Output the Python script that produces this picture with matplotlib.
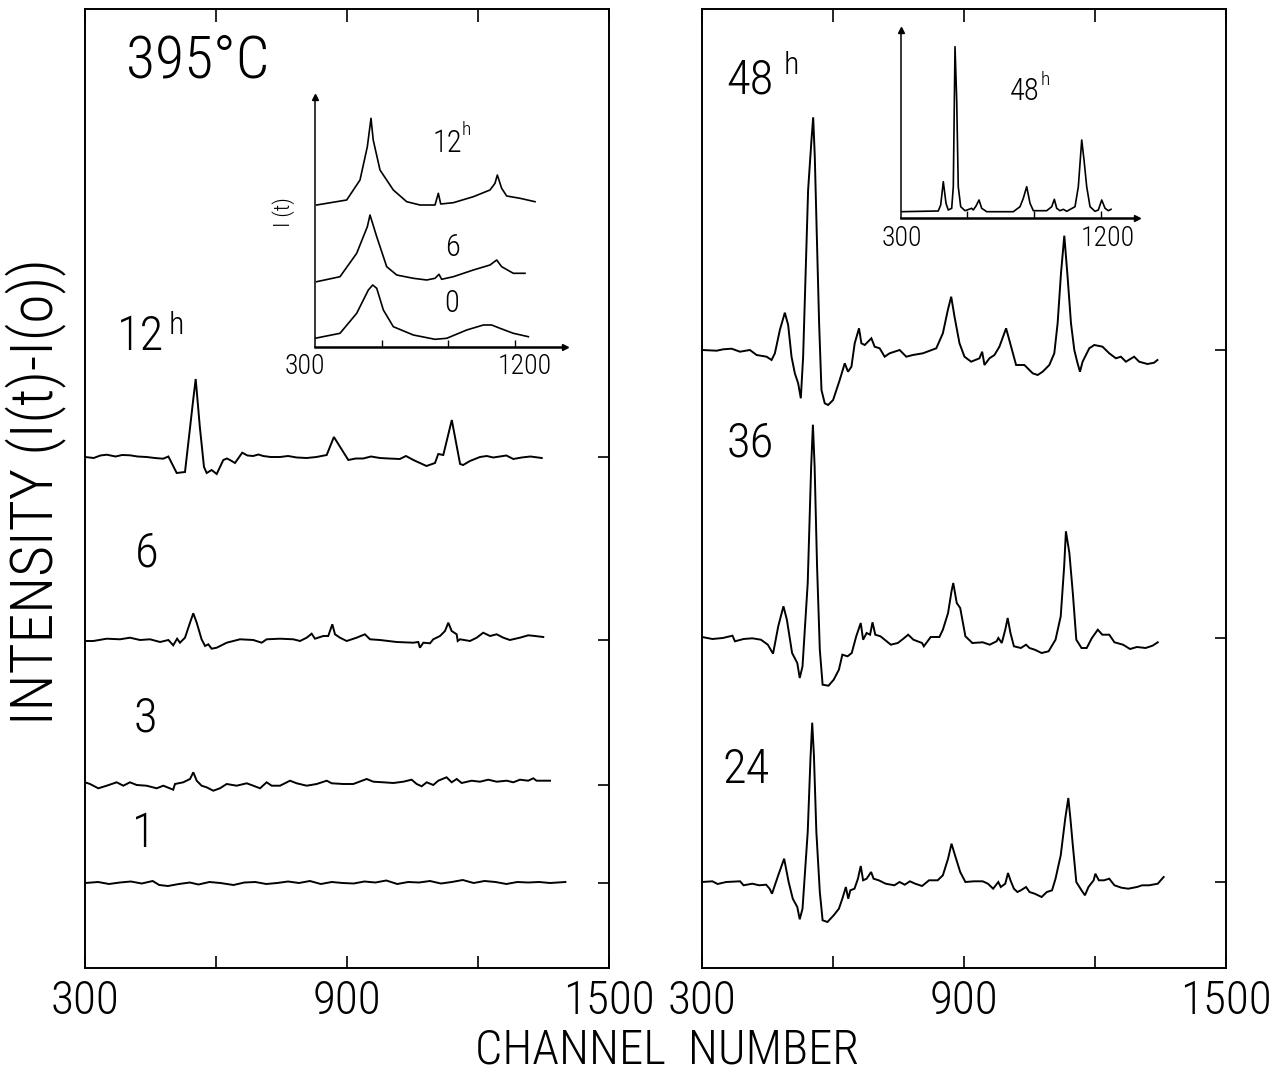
import matplotlib
matplotlib.use('Agg')
import matplotlib.pyplot as plt

FONT = ['Roboto Condensed', 'Roboto', 'DejaVu Sans']
plt.rcParams['font.family'] = FONT
plt.rcParams['font.weight'] = 'light'

# ---------------- data (channel, relative intensity) ----------------
# Left panel: 395 C, difference spectra I(t)-I(0)
ch_L12 = [300, 320, 335, 350, 370, 385, 403, 420, 441, 460, 479, 491, 510, 529, 548, 553.5, 563, 572.5,
          578.7, 590, 601.6, 616.7, 625, 632, 643.5, 660, 672, 685, 697, 708, 725, 746.6, 765, 785,
          807.7, 830, 853.5, 870, 903, 920, 937, 955, 975.5, 995, 1021, 1035, 1052, 1082, 1101.5,
          1109, 1120.5, 1140, 1159, 1166, 1181.6, 1204.5, 1220, 1235, 1250, 1265, 1280.8, 1300, 1320, 1346]
v_L12 = [0, -1, 1.5, 2.3, 0.5, 2, 1.7, 0.5, 0, -1, -1.7, 0.5, -16, -15, 58, 78, 30, -10,
         -16, -13, -17, -3, -1.5, -3, -6, 4.3, 1.5, 1, 2.5, 1, 0, 0, 1, -0.5,
         -1, 0, 2, 20, -3, -1.5, -1.5, 0.5, -1, -1.5, -2, 1, -3, -9, -6,
         3, 2, 37, -7, -8, -4, 0, 1, -0.5, 0.5, 1.5, -2, -0.5, 0.5, -1]

ch_L6 = [300, 319, 349.7, 380, 403, 426, 449, 472, 491, 502, 511, 517.5, 529, 540.5, 548, 555.8, 567, 575,
         582.4, 590, 601.6, 624.5, 655, 685.4, 704.6, 716, 746.6, 777, 792.4, 807.7, 819, 826.7, 845.7,
         857, 866.4, 872.5, 884, 899.3, 922, 941, 952.7, 975.5, 1013.8, 1051.8, 1063.3, 1067, 1074.7,
         1090, 1097.6, 1113, 1124.4, 1132, 1139.7, 1151.2, 1153.5, 1158.8, 1181.6, 1197, 1212, 1227.5,
         1242.8, 1258, 1273, 1296, 1315, 1330.5, 1349.5]
v_L6 = [-1, -1, 1.3, 0.7, 2.3, 0, 0.7, -2, 0, -5.3, 1.3, -2.7, 2.3, 17.3, 26.7, 17.3, 0.7, -6,
        -4.3, -8.7, -7.7, -2.7, 0.7, 0, -2.7, 0.7, 1.3, 0.7, -1, 2.3, 6.3, 1.3, 4,
        4, 15.7, 5.7, 2.3, -1, 2.3, 5.7, 0.7, 0, -2, -2.7, -2, -7.7, -2.7,
        -3.3, 0.7, 4, 9, 17.3, 9, 5.7, -1, 0.7, -1, 2.3, 7.3, 4,
        5.7, 2.3, 0, 2.3, 4.7, 4, 3]

ch_L3 = [300, 311.5, 330.5, 349.7, 372.6, 387.7, 403, 418.4, 441, 464.2, 479.3, 502, 506, 525, 540.5, 548,
         555.8, 567, 578.5, 593.8, 609, 624.5, 647.3, 670.3, 685.4, 700.8, 716, 727.5, 746.6, 769.5,
         784.8, 807.7, 830.6, 853.5, 865, 891.5, 914.4, 945, 960.3, 983, 1006, 1029, 1048, 1059.6,
         1071, 1082.5, 1097.6, 1109, 1128, 1139.7, 1151.2, 1162.6, 1185.5, 1204.5, 1223.6, 1242.8,
         1265.7, 1281, 1296, 1315, 1326.6, 1334, 1365]
v_L3 = [2.7, 1, -3.3, -0.7, 2.7, -0.7, 2.7, 0, -0.7, -3.3, -0.7, -4.7, 1, 2.7, 6, 12.7,
        4.3, -0.7, -2.3, -5.7, -3.3, 1, -0.7, 1.7, -0.7, -3.3, 2.7, -0.7, -0.7, 4.3,
        1.7, -0.7, 1, 4.3, 1.7, 1, 1, 6, 3.3, 2.7, 2, 3.3, 5.3, 1,
        -1.3, 2.7, 0, 4.3, 7.7, 2.7, 6, 2, 4.3, 3.3, 5.3, 3.3,
        4.3, 2.7, 5.3, 4.3, 6.7, 4.3, 4.3]

ch_L1 = [300, 330, 355, 380, 405, 430, 455, 470, 490, 515, 540, 560, 585, 610, 640, 665, 690, 715, 740,
         765, 790, 815, 840, 865, 890, 915, 940, 965, 990, 1015, 1040, 1065, 1090, 1115, 1140, 1165,
         1190, 1215, 1240, 1265, 1290, 1315, 1340, 1365, 1400]
v_L1 = [0, 1, -1, 0.5, 1.5, -0.5, 2, -2, -3, -1, 0.5, -1.5, 1, 0, -2, 0.5, 1, -1, 0,
        1.5, 0, 2, -1, 1, 0, -0.5, 1.5, 0.5, 2.5, -1, 1, 0.5, 2, -0.5, 1, 3,
        0, 2, 1, -1, 1, 0.5, 1, 0, 1]

# Right panel
ch_R48 = [300, 333.5, 348.8, 367.8, 386.9, 409.7, 425, 447.9, 459.3, 466.9, 478.3, 489.7, 497.3, 505,
          512.6, 520.2, 526.3, 531.6, 543, 550.7, 554.6, 558.3, 562.2, 568.2, 573.6, 581.1, 588.8,
          600.2, 615.4, 626.9, 634.4, 642.2, 649.7, 659.6, 665, 672.6, 687.9, 695.4, 706.9, 718.3,
          729.7, 752.6, 767.9, 783, 805.8, 836.5, 851.6, 863, 870.7, 878.3, 889.7, 901.1, 916.4,
          935.4, 941.6, 946.9, 958.3, 969.7, 981.1, 996.4, 1007.9, 1019.3, 1038.3, 1057.3, 1068.7,
          1080.1, 1095.4, 1106.8, 1114.4, 1122.1, 1129.7, 1137.2, 1145, 1152.6, 1160.1, 1165.6,
          1171.6, 1186.9, 1198.3, 1217.3, 1232.6, 1247.9, 1259.3, 1270.7, 1289.7, 1301.1, 1320.2,
          1335.4, 1343]
v_R48 = [0, -0.7, 0.7, 1.3, -1.7, 0, -5, -6.7, -10, -3.3, 20, 37.3, 25, -6.7,
         -23.3, -33.3, -48.3, -6.7, 160, 210, 232.7, 193.3, 126.7, 26.7, -40, -53.3, -55,
         -50, -30, -13.3, -21.7, -16.7, 6.7, 21.7, 6.7, 5, 11.7, 3.3, 1.7, -6.7,
         -3.3, 0, -6.7, -5, -3.3, 1.7, 16.7, 40, 53.3, 33.3, 6.7, -6.7, -11.7,
         -8.3, -1.7, -15, -8.3, -5, 3.3, 21.7, 3.3, -15, -15, -23.3, -25,
         -21.7, -15, -3.3, 26.7, 76.7, 114.3, 73.3, 26.7, 0, -13.3, -21.7,
         -11.7, 1.7, 5, 3.3, -3.3, -8.3, -6.7, -11.7, -6.7, -11.7, -14,
         -12.7, -10]

ch_R36 = [300, 323.8, 347.6, 369.8, 375.4, 395.2, 415.1, 434.9, 450.8, 462.7, 474.6, 486.5, 494.4, 506.3,
          518.2, 523.8, 530.2, 542.1, 550, 554, 557.9, 563.5, 569.8, 576.2, 589.7, 601.6, 613.5, 621.4,
          633.3, 642.9, 653.2, 663.5, 669, 677, 684.9, 690.5, 696.8, 708.7, 732.5, 748.4, 760.3, 772.2,
          784.1, 804, 808, 823.8, 843.7, 851.6, 863.5, 871.4, 875.4, 883.4, 891.3, 903.2, 919.1, 942.9,
          958.8, 974.6, 978.6, 986.5, 994.5, 1000, 1006.4, 1014.3, 1030.2, 1042.1, 1050, 1061.9,
          1077.8, 1093.7, 1109.6, 1121.5, 1129.4, 1133.4, 1141.3, 1149.2, 1157.2, 1169.1, 1181,
          1192.9, 1206.4, 1216.7, 1232.6, 1244.5, 1264.3, 1280.2, 1296.1, 1315.9, 1331.8, 1343.7]
v_R36 = [1, -1, 0, 2.3, -3.3, -1, -0.3, -1.7, -6.7, -15.7, 11.7, 31.7, 18.3, -15,
         -25, -40, -28.3, 55, 171.7, 213.3, 171.7, 71.7, -11.7, -46.7, -47.7, -41.7, -31.7, -16.7,
         -18.3, -15, 1.7, 15, -1.7, 5, 3.3, 15.7, 3.3, 1.7, -6.7, -5, -1, 3.3,
         -1.7, -5, -8.3, 1, 1, 8.3, 25, 46.7, 55, 35, 30, 1.7, -5, -4.3,
         -6.7, -3.3, 0, -5, 8.3, 20, 5, -8.3, -10, -6.7, -10, -11.7,
         -15, -13.3, -1.7, 21.7, 71.7, 106.7, 85, 45, -1.7, -10, -10,
         0, 8.3, 3.3, 3.3, -4.3, -6.7, -11, -9, -10, -7.7, -4.3]

ch_R24 = [300, 323.8, 335.7, 355.5, 387.3, 395.2, 415.1, 430.9, 446.8, 454.8, 460.3, 474.6, 488.1, 498.4,
          507.9, 518.2, 523.8, 530.2, 542.1, 548.4, 552.4, 556.3, 561.9, 569.8, 576.2, 587.3, 601.6,
          613.5, 621.4, 629.4, 634.9, 639.7, 649.2, 657.1, 663.5, 669, 677, 687.3, 692.9, 704.8, 720.6,
          740.5, 752.4, 764.3, 776.2, 788.1, 804, 819.9, 839.7, 851.6, 863.5, 871.4, 879.4, 891.3,
          903.2, 923, 942.9, 954.8, 966.7, 978.6, 984.2, 994.5, 1000.8, 1006.4, 1014.3, 1022.3,
          1030.2, 1042.1, 1050, 1061.9, 1077.8, 1089.7, 1101.6, 1109.6, 1121.5, 1131.8, 1138.9,
          1143.7, 1149.2, 1157.2, 1169.1, 1177, 1185, 1196.9, 1200.8, 1208.8, 1220.7, 1232.6, 1244.5,
          1260.4, 1276.2, 1296.1, 1308, 1323.9, 1343.7, 1357.2]
v_R24 = [0, 0.7, -2, 0, 0.7, -3.3, -1.7, -3.3, -2.7, -6.7, -11.7, 6.7, 23.3, 0,
         -16.7, -25, -37.3, -26.7, 50, 123.3, 159.3, 126.7, 50, -10, -38.3, -40, -33.3,
         -26.7, -16.7, -5, -16.7, -8.3, -6.7, 3.3, 16, 1.7, 3.3, 10, 3.3, 1.7, -1.7,
         -3.3, 0, -2.7, 0.7, -1.7, -4, 1.7, 1.7, 6.7, 23.3, 38.3, 26.7, 10,
         0, 0.7, 0.7, -1.7, -6.7, 0, -5, -1.7, 9, 1.7, -6.7, -10,
         -8.3, -5, -10, -11.7, -15, -10, -8.3, 3.3, 26.7, 63.3, 84,
         63.3, 36.7, 0, -8.3, -13.3, -5, 1.7, 8.3, 1.7, 1.7, 3.3, -3.3,
         -5.7, -6.7, -5, -3.3, -3.3, -1.7, 5]

# Baseline offsets of the stacked traces
off_L = {'12': 511, '6': 328, '3': 183, '1': 85}
off_R = {'48': 618, '36': 330, '24': 86}

# Inset (left): raw spectra I(t) at 0, 6 and 12 h
ch_I12 = [307.5, 442.6, 502.5, 535.5, 552, 562, 592.5, 652.4, 712.6, 772.5, 840, 855, 865.7, 922.5,
          1012.5, 1087.5, 1110, 1120.5, 1140, 1162.6, 1222.6, 1290]
v_I12 = [141.7, 146.7, 166.7, 200, 228.4, 206.7, 176.7, 156.7, 145, 141.7, 141.7, 153.4, 142.7, 144,
         150, 156.7, 163.4, 171.7, 158.4, 150.7, 148.4, 145]
ch_I6 = [307.5, 412.5, 487.6, 535.5, 547.5, 577.7, 622.7, 667.7, 742.4, 802.7, 840, 858, 870, 922.5,
         1012.5, 1087.5, 1117.6, 1140, 1192.5, 1245]
v_I6 = [65, 70, 93.4, 120, 131.7, 110, 80, 71.7, 68.4, 66.7, 68.4, 72.4, 67.4, 70,
        76.7, 81.7, 86.7, 80, 73.4, 73.4]
ch_I0 = [300, 412.5, 487.6, 540, 559.7, 577.7, 607.6, 652.4, 742.4, 840, 892.7, 982.7, 1057.5, 1095,
         1132.5, 1192.5, 1260]
v_I0 = [8.4, 13.4, 33.4, 56.7, 61.7, 58.4, 36.7, 20, 11.7, 7.4, 8.4, 16.7, 21.7, 21.7,
        18.4, 13.4, 10]

# Inset (right): raw spectrum after 48 h
ch_I48 = [300, 469, 480, 491.7, 503.9, 514, 529.5, 536.7, 544.4, 552, 559, 570, 589.4, 619.5, 626.7,
          638.9, 652.4, 664.5, 687, 806.7, 836.9, 851.7, 867, 882, 896.8, 957, 979.6, 991.4, 1002,
          1017, 1031.8, 1047, 1084.4, 1099.3, 1114.6, 1125, 1137, 1152, 1174.4, 1189.3, 1204.6,
          1219.5, 1234.5, 1246.4]
v_I48 = [6.6, 7.3, 13.3, 36.6, 15, 8.3, 10, 31.6, 171.6, 118.3, 31.6, 11.6, 7.6, 10, 8.3,
         12.3, 18.3, 10, 6.6, 6.6, 11.6, 20, 31.6, 15, 7.6, 7.6, 11.6, 19, 10,
         7.6, 9, 7, 11.6, 31.6, 78.3, 58.3, 31.6, 11.6, 7, 8.3, 18.3,
         10, 7.6, 9]

tick_pos = [300, 600, 900, 1200, 1500]
tick_lab = ['300', '', '900', '', '1500']

# ---------------- figure ----------------
W, H = 1279, 1072
fig = plt.figure(figsize=(W / 100, H / 100), dpi=100)


def rect(x0, y0, x1, y1):
    return [x0 / W, 1 - y1 / H, (x1 - x0) / W, (y1 - y0) / H]


def ftext(x, y, s, size, **kw):
    return fig.text(x / W, 1 - y / H, s, fontsize=size, ha='center', va='center',
                    fontweight='light', **kw)


LW = 1.4
axL = fig.add_axes(rect(85, 9, 609, 968))
axR = fig.add_axes(rect(702, 9, 1226, 968))

traces_L = [(ch_L12, v_L12, off_L['12']), (ch_L6, v_L6, off_L['6']),
            (ch_L3, v_L3, off_L['3']), (ch_L1, v_L1, off_L['1'])]
traces_R = [(ch_R48, v_R48, off_R['48']), (ch_R36, v_R36, off_R['36']),
            (ch_R24, v_R24, off_R['24'])]

for ax, traces, offs in ((axL, traces_L, off_L), (axR, traces_R, off_R)):
    for c, v, o in traces:
        ax.plot(c, [o + y for y in v], color='black', lw=LW, solid_joinstyle='miter')
    ax.set_xlim(300, 1500)
    ax.set_ylim(0, 959)
    ax.set_xticks(tick_pos)
    ax.set_xticklabels(tick_lab)
    ax.tick_params(axis='x', direction='in', length=9, width=1.2, top=True, bottom=True,
                   labelsize=34, pad=8)
    ax.set_yticks(sorted(offs.values()))
    ax.set_yticklabels([])
    ax.tick_params(axis='y', direction='in', length=8, width=1.2, left=False, right=True)
    for s in ax.spines.values():
        s.set_linewidth(1.4)

# ---------------- insets ----------------
axIL = fig.add_axes(rect(315, 96.7, 565, 346.7))
axIR = fig.add_axes(rect(900.7, 30, 1136.7, 218.3))
axIL.set_xlim(300, 1425)
axIL.set_ylim(0, 250)
axIR.set_xlim(300, 1362)
axIR.set_ylim(0, 188.3)
for c, v in ((ch_I12, v_I12), (ch_I6, v_I6), (ch_I0, v_I0)):
    axIL.plot(c, v, color='black', lw=1.2)
axIR.plot(ch_I48, v_I48, color='black', lw=1.2)
for ax in (axIL, axIR):
    ax.patch.set_alpha(0)
    ax.spines['top'].set_visible(False)
    ax.spines['right'].set_visible(False)
    ax.spines['left'].set_linewidth(1.1)
    ax.spines['bottom'].set_linewidth(1.8)
    ax.set_xticks([600, 900, 1200])
    ax.set_xticklabels([])
    ax.set_yticks([])
    ax.tick_params(axis='x', direction='in', length=5, width=1.0)
    ax.plot(1, 0, marker='>', color='black', ms=4, transform=ax.transAxes, clip_on=False)
    ax.plot(0, 1, marker='^', color='black', ms=4, transform=ax.transAxes, clip_on=False)

# inset tick labels and texts
ftext(305, 366, '300', 20)
ftext(525, 366, '1200', 20)
ftext(902, 239, '300', 20)
ftext(1108, 239, '1200', 20)
ftext(284, 212, 'I (t)', 16, rotation=90)
ftext(447, 143, '12', 22)
ftext(466, 130, 'h', 14)
ftext(453, 247, '6', 22)
ftext(452, 304, '0', 22)
ftext(1025, 91, '48', 22)
ftext(1045, 80, 'h', 14)

# ---------------- main labels ----------------
ftext(198, 61, '395°C', 43)
ftext(141, 337, '12', 35)
ftext(176, 325, 'h', 23)
ftext(147, 553, '6', 35)
ftext(145, 718, '3', 35)
ftext(144, 834, '1', 35)
ftext(750, 80, '48', 35)
ftext(791, 65, 'h', 23)
ftext(750, 443, '36', 35)
ftext(746, 770, '24', 35)

ftext(36, 492, 'INTENSITY (I(t)-I(o))', 43, rotation=90)
ftext(667, 1050, 'CHANNEL  NUMBER', 35)

fig.savefig('out.png', dpi=100, facecolor='white')
